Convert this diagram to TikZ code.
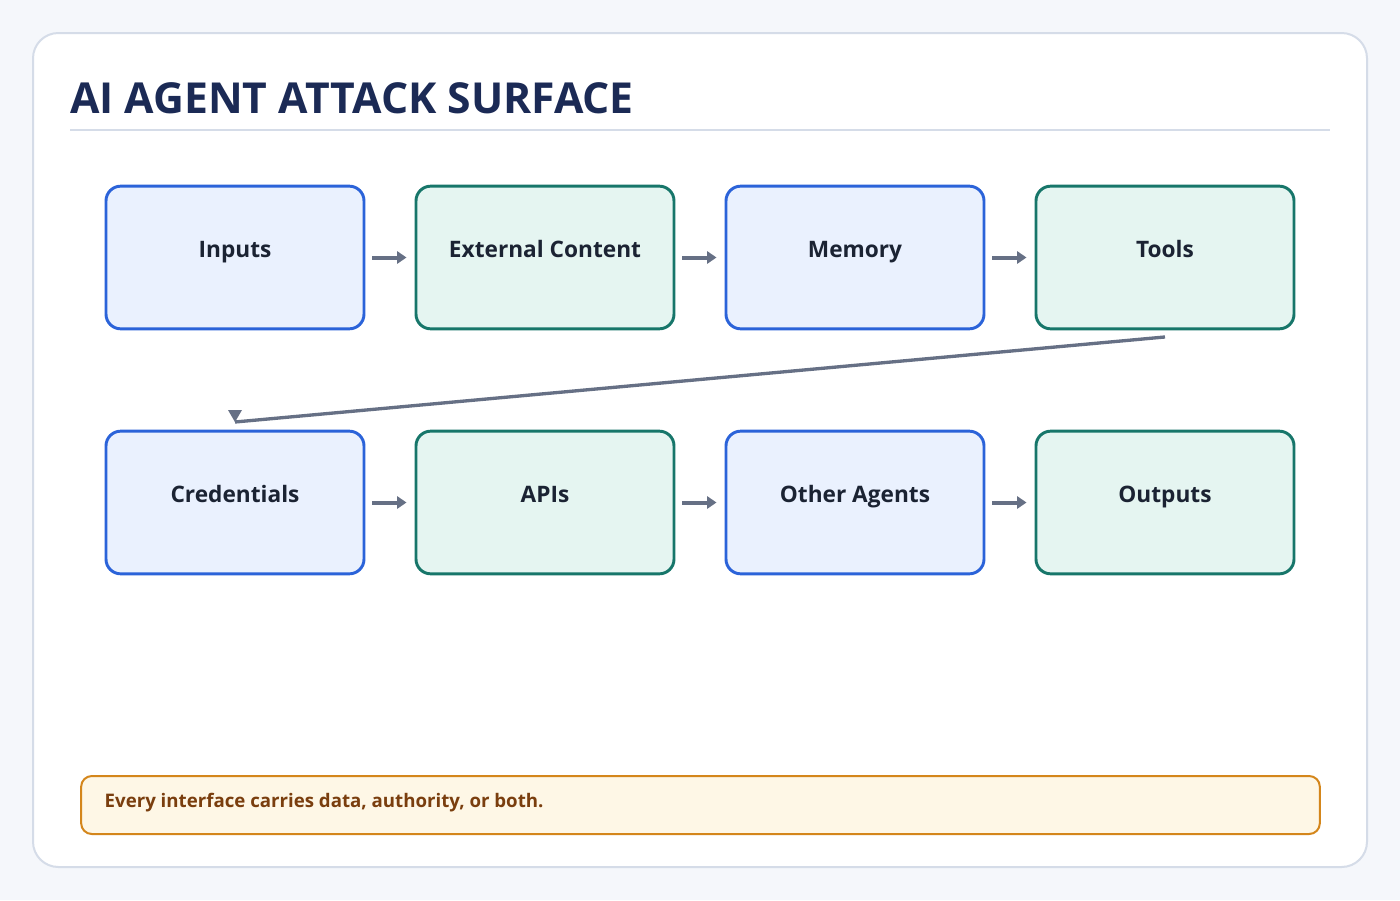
\documentclass[tikz,border=0pt]{standalone}
\usepackage{fontspec}
\setmainfont{Open Sans}[BoldFont={Open Sans Bold}]
\usetikzlibrary{arrows.meta}
\definecolor{bg}{HTML}{F5F7FB}
\definecolor{cardb}{HTML}{D5DCE8}
\definecolor{ttl}{HTML}{1B2A55}
\definecolor{bfill}{HTML}{EAF1FE}
\definecolor{bline}{HTML}{2B63D9}
\definecolor{gfill}{HTML}{E5F5F1}
\definecolor{gline}{HTML}{17766A}
\definecolor{arr}{HTML}{667085}
\definecolor{ffill}{HTML}{FEF7E6}
\definecolor{fline}{HTML}{D4861B}
\definecolor{ftext}{HTML}{7A3E0E}
\definecolor{btext}{HTML}{1B2333}
\begin{document}
\begin{tikzpicture}[x=0.75pt,y=-0.75pt,
  box/.style={draw,line width=2.2pt,rounded corners=11pt,minimum width=193.5pt,minimum height=107pt,text height=8pt,text depth=8.5pt,font=\fontsize{17}{20}\selectfont\bfseries,text=btext},
  blue/.style={box,fill=bfill,draw=bline},
  green/.style={box,fill=gfill,draw=gline},
  ar/.style={draw=arr,line width=3pt,-{Triangle[length=7pt,width=9pt]}}]
\useasboundingbox (0,0) rectangle (1400,900);
\fill[bg] (0,0) rectangle (1400,900);
\draw[cardb,fill=white,line width=1.5pt,rounded corners=19pt] (33,33) rectangle (1367,867);
\node[anchor=base west,inner sep=0,text=ttl,font=\fontsize{32}{36}\selectfont\bfseries] (title) at (70,113) {AI AGENT ATTACK SURFACE};
\draw[cardb,line width=1.5pt] (70,130) -- (1330,130);
\node[blue] (in) at (235,257.5) {Inputs};
\node[green] (ext) at (545,257.5) {External Content};
\node[blue] (mem) at (855,257.5) {Memory};
\node[green] (tools) at (1165,257.5) {Tools};
\node[blue] (cred) at (235,502.5) {Credentials};
\node[green] (api) at (545,502.5) {APIs};
\node[blue] (oth) at (855,502.5) {Other Agents};
\node[green] (out) at (1165,502.5) {Outputs};
\foreach \a/\b in {in/ext,ext/mem,mem/tools,cred/api,api/oth,oth/out}
  \draw[ar] ([xshift=5pt]\a.east) -- ([xshift=-6pt]\b.west);
\coordinate (cend) at (235,422);
\draw[arr,line width=2.5pt] ([yshift=-5pt]tools.south) -- (cend);
\fill[arr] (228,410) -- (242,410) -- (cend) -- cycle;
\node[draw=fline,fill=ffill,line width=1.5pt,rounded corners=8pt,minimum width=929pt,minimum height=43.5pt] (foot) at (700.5,805) {};
\node[anchor=west,text=ftext,text height=7pt,text depth=4pt,font=\fontsize{14}{18}\selectfont\bfseries] (ft) at (100,805) {Every interface carries data, authority, or both.};
\end{tikzpicture}
\end{document}
